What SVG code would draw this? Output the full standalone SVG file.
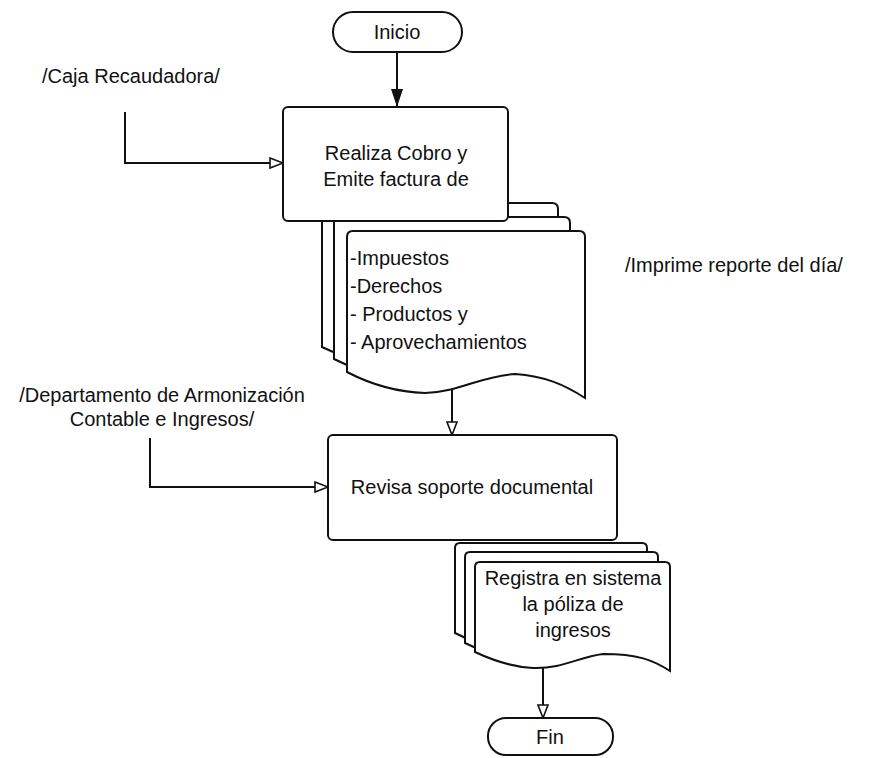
<svg xmlns="http://www.w3.org/2000/svg" width="877" height="758" viewBox="0 0 877 758">
<style>
  .shape { fill: #ffffff; stroke: #111111; stroke-width: 2; }
  .conn { fill: none; stroke: #111111; stroke-width: 2; }
  text { font-family: "Liberation Sans", Arial, sans-serif; font-size: 20px; fill: #111111; }
  .c { text-anchor: middle; }
</style>
<defs>
  <marker id="arrowFilled" markerUnits="userSpaceOnUse" markerWidth="20" markerHeight="14" refX="18" refY="6" orient="auto">
    <path d="M0,0 L18,6 L0,12 z" fill="#111111"/>
  </marker>
  <marker id="arrowOpen" markerUnits="userSpaceOnUse" markerWidth="16" markerHeight="14" refX="14" refY="6" orient="auto">
    <path d="M1,1 L14,6 L1,11 z" fill="#ffffff" stroke="#111111" stroke-width="1.6"/>
  </marker>
</defs>
<rect width="877" height="758" fill="#ffffff"/>

<g id="lane-labels">
  <text id="label-caja" x="42" y="83">/Caja Recaudadora/</text>
  <text id="label-imprime" x="625" y="272">/Imprime reporte del día/</text>
  <text id="label-depto" class="c" x="162" y="402">/Departamento de Armonización<tspan x="162" dy="24">Contable e Ingresos/</tspan></text>
</g>

<g id="connectors">
  <line class="conn" x1="397" y1="52" x2="397" y2="107" marker-end="url(#arrowFilled)"/>
  <polyline class="conn" points="125,112 125,163 283,163" marker-end="url(#arrowOpen)"/>
  <line class="conn" x1="452" y1="389" x2="452" y2="435" marker-end="url(#arrowOpen)"/>
  <polyline class="conn" points="150,438 150,487 328,487" marker-end="url(#arrowOpen)"/>
  <line class="conn" x1="543" y1="667" x2="543" y2="718" marker-end="url(#arrowOpen)"/>
</g>

<g id="node-inicio">
  <rect class="shape" x="333" y="12" width="129" height="40" rx="20" ry="20"/>
  <text class="c" x="397" y="39">Inicio</text>
</g>

<g id="node-docs-ingresos">
  <path class="shape" d="M322,347 L322,209 Q322,203 328,203 L552,203 Q558,203 558,209 L558,370 C538,357 518,348 490,346 C455,348 435,364 400,367 C370,366 345,358 322,347 z"/>
  <path class="shape" d="M334,359 L334,223 Q334,217 340,217 L564,217 Q570,217 570,223 L570,384 C550,371 530,362 502,360 C467,362 447,378 412,381 C382,380 357,370 334,359 z"/>
  <path class="shape" d="M347,372 L347,237 Q347,231 353,231 L579,231 Q585,231 585,237 L585,398 C565,385 545,376 515,374 C480,376 460,392 425,393 C395,392 370,384 347,372 z"/>
  <text x="350" y="265">-Impuestos</text>
  <text x="350" y="293">-Derechos</text>
  <text x="350" y="321">- Productos y</text>
  <text x="350" y="349">- Aprovechamientos</text>
</g>

<g id="node-cobro">
  <rect class="shape" x="283" y="107" width="225" height="114" rx="5" ry="5"/>
  <text class="c" x="396" y="160">Realiza Cobro y</text>
  <text class="c" x="396" y="186">Emite factura de</text>
</g>

<g id="node-revisa">
  <rect class="shape" x="328" y="435" width="289" height="105" rx="5" ry="5"/>
  <text class="c" x="472" y="494">Revisa soporte documental</text>
</g>

<g id="node-registra">
  <path class="shape" d="M455,633 L455,548 Q455,543 460,543 L642,543 Q647,543 647,548 L647,651 C630,640 615,634 580,635 C555,638 540,650 510,649 C490,648 470,641 455,633 z"/>
  <path class="shape" d="M465,643 L465,557 Q465,552 470,552 L653,552 Q658,552 658,557 L658,661 C641,650 626,644 591,645 C566,648 551,660 521,659 C501,658 481,651 465,643 z"/>
  <path class="shape" d="M475,652 L475,567 Q475,562 480,562 L665,562 Q670,562 670,567 L670,671 C653,660 638,654 603,654 C578,657 563,669 533,668 C513,667 492,660 475,652 z"/>
  <text class="c" x="573" y="585">Registra en sistema</text>
  <text class="c" x="573" y="611">la póliza de</text>
  <text class="c" x="573" y="637">ingresos</text>
</g>

<g id="node-fin">
  <rect class="shape" x="488" y="718" width="125" height="37" rx="18" ry="18"/>
  <text class="c" x="550" y="744">Fin</text>
</g>
</svg>
